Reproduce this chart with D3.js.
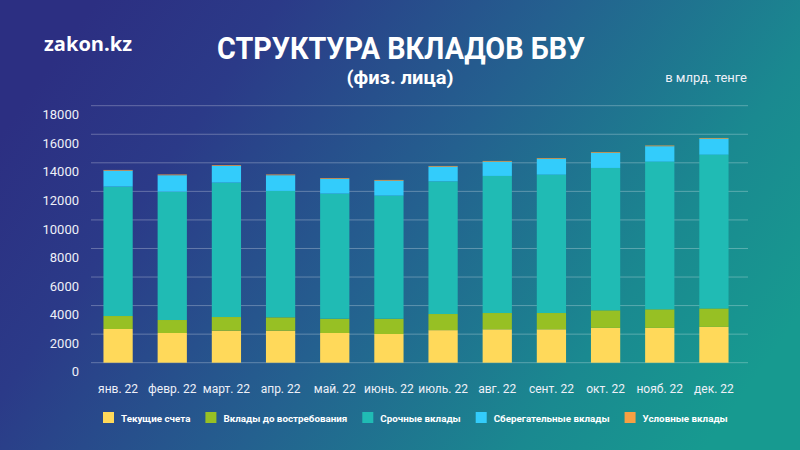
<!DOCTYPE html>
<html>
<head>
<meta charset="utf-8">
<script src="https://cdn.jsdelivr.net/npm/d3@7"></script>
<style>
  html, body { margin: 0; padding: 0; background: #2b3183; }
  svg { display: block; }
</style>
</head>
<body>
<svg id="chart" width="800" height="450"></svg>
<script>
const months = ["янв. 22","февр. 22","март. 22","апр. 22","май. 22","июнь. 22","июль. 22","авг. 22","сент. 22","окт. 22","нояб. 22","дек. 22"];
const currentAccounts = [2360, 2080, 2240, 2240, 2080, 2010, 2280, 2340, 2340, 2440, 2440, 2510];
const demandDeposits  = [910, 910, 960, 940, 1000, 1070, 1130, 1140, 1140, 1230, 1300, 1290];
const termDeposits    = [9060, 8990, 9410, 8850, 8760, 8620, 9290, 9600, 9690, 9970, 10340, 10770];
const savingsDeposits = [1120, 1150, 1170, 1100, 1030, 1050, 1030, 1000, 1100, 1050, 1080, 1120];
const conditionalDeposits = [50, 50, 50, 50, 50, 50, 50, 50, 50, 50, 50, 50];
const seriesNames = ["Текущие счета","Вклады до востребования","Срочные вклады","Сберегательные вклады","Условные вклады"];
const seriesColors = ["#ffd95a","#97c024","#20bbb4","#33ccfb","#f7a043"];
const yTicks = [0,2000,4000,6000,8000,10000,12000,14000,16000,18000];

const seriesKeys = ["cur","dem","term","sav","cond"];
const table = months.map((m,i)=>({
  month: m, cur: currentAccounts[i], dem: demandDeposits[i], term: termDeposits[i],
  sav: savingsDeposits[i], cond: conditionalDeposits[i]
}));

const svg = d3.select("#chart");
const W = 800, H = 450;

// background gradient
const defs = svg.append("defs");
const bg = defs.append("linearGradient").attr("id","bg")
  .attr("x1","0").attr("y1","0.3").attr("x2","1").attr("y2","0.7");
bg.append("stop").attr("offset","0").attr("stop-color","#2c2f82");
bg.append("stop").attr("offset","0.2").attr("stop-color","#2b3a88");
bg.append("stop").attr("offset","0.5").attr("stop-color","#24608f");
bg.append("stop").attr("offset","0.8").attr("stop-color","#1a8990");
bg.append("stop").attr("offset","1").attr("stop-color","#179a90");
svg.append("rect").attr("width",W).attr("height",H).attr("fill","url(#bg)");

const x = d3.scaleBand().domain(months).range([91, 741]).paddingInner(0.46).paddingOuter(0.23);
const y = d3.scaleLinear().domain([0,18000]).range([362.7, 105.7]);

// gridlines
svg.append("g").selectAll("line").data(yTicks).join("line")
  .attr("x1", 91).attr("x2", 748)
  .attr("y1", d=>y(d)).attr("y2", d=>y(d))
  .attr("stroke","rgba(255,255,255,0.28)").attr("stroke-width",1);

// y axis labels (offset below gridline as in reference)
const yAxis = d3.axisLeft(y).tickValues(yTicks).tickSize(0).tickPadding(0).tickFormat(d3.format("d"));
const yg = svg.append("g").attr("transform","translate(79,9)").call(yAxis);
yg.select(".domain").remove();
yg.selectAll("text").attr("fill","#eef0f8").attr("font-family","Roboto, 'Open Sans', sans-serif")
  .attr("font-size","13px");

// x axis labels
const xAxis = d3.axisBottom(x).tickSize(0).tickPadding(0);
const xg = svg.append("g").attr("transform","translate(0,382)").call(xAxis);
xg.select(".domain").remove();
xg.selectAll("text").attr("fill","#eef0f8").attr("font-family","Roboto, 'Open Sans', sans-serif")
  .attr("font-size","12px").attr("dy","0.95em");

// stacked bars
const stack = d3.stack().keys(seriesKeys)(table);
svg.append("g").selectAll("g").data(stack).join("g")
  .attr("fill",(d,i)=>seriesColors[i])
  .selectAll("rect").data(d=>d).join("rect")
  .attr("x", d=>x(d.data.month))
  .attr("width", x.bandwidth())
  .attr("y", d=>y(d[1]))
  .attr("height", d=>Math.max(0, y(d[0]) - y(d[1])));

// titles
svg.append("text").attr("x",44).attr("y",51).text("zakon.kz")
  .attr("fill","#fff").attr("font-family","'Open Sans', Roboto, sans-serif").attr("font-weight","700")
  .attr("font-size","19px").attr("textLength",88).attr("lengthAdjust","spacingAndGlyphs");
svg.append("text").attr("x",401).attr("y",59).attr("text-anchor","middle").text("СТРУКТУРА ВКЛАДОВ БВУ")
  .attr("fill","#fff").attr("font-family","Roboto, sans-serif").attr("font-weight","700")
  .attr("font-size","31px").attr("textLength",368).attr("lengthAdjust","spacingAndGlyphs");
svg.append("text").attr("x",400).attr("y",84).attr("text-anchor","middle").text("(физ. лица)")
  .attr("fill","#fff").attr("font-family","Roboto, sans-serif").attr("font-weight","700")
  .attr("font-size","18px").attr("textLength",107).attr("lengthAdjust","spacingAndGlyphs");
svg.append("text").attr("x",747).attr("y",82).attr("text-anchor","end").text("в млрд. тенге")
  .attr("fill","#eef0f8").attr("font-family","Roboto, 'Open Sans', sans-serif")
  .attr("font-size","13px");

// legend
const lg = svg.append("g");
let lx = 103;
seriesNames.forEach((name,i)=>{
  lg.append("rect").attr("x",lx).attr("y",412).attr("width",11).attr("height",11).attr("fill",seriesColors[i]);
  const t = lg.append("text").attr("x",lx+18).attr("y",421.5).text(name)
    .attr("fill","#fff").attr("font-family","Roboto, sans-serif").attr("font-weight","700")
    .attr("font-size","9.8px");
  lx += 18 + t.node().getComputedTextLength() + 15;
});
</script>
</body>
</html>
